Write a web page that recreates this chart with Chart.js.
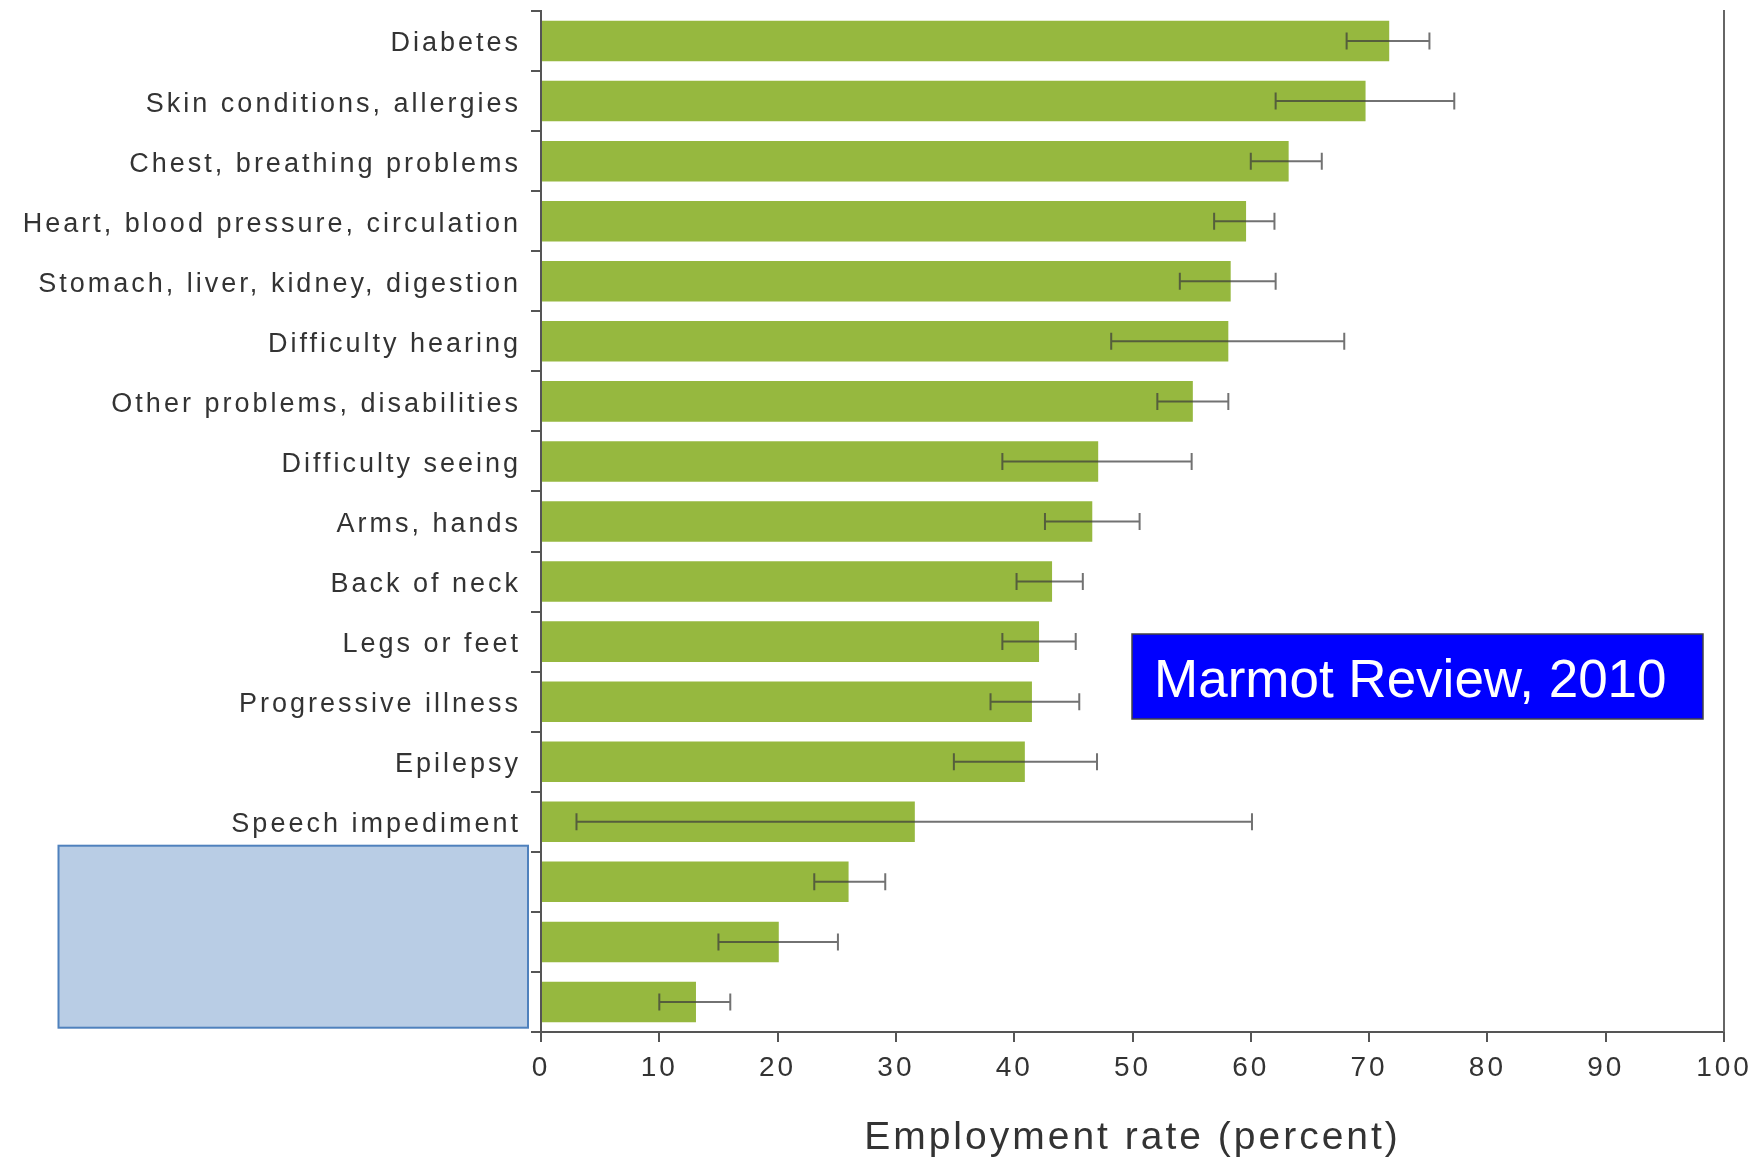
<!DOCTYPE html>
<html>
<head>
<meta charset="utf-8">
<script src="https://cdn.jsdelivr.net/npm/chart.js@4.4.1/dist/chart.umd.min.js"></script>
<style>
  html, body { margin: 0; padding: 0; background: #ffffff; }
  #wrap { width: 1763px; height: 1157px; position: relative; }
</style>
</head>
<body>
<div id="wrap"><canvas id="c" width="1763" height="1157"></canvas></div>
<script>
// Categories (the last three labels are hidden beneath an overlay box in the source image)
const categories = [
  "Diabetes",
  "Skin conditions, allergies",
  "Chest, breathing problems",
  "Heart, blood pressure, circulation",
  "Stomach, liver, kidney, digestion",
  "Difficulty hearing",
  "Other problems, disabilities",
  "Difficulty seeing",
  "Arms, hands",
  "Back of neck",
  "Legs or feet",
  "Progressive illness",
  "Epilepsy",
  "Speech impediment",
  "",
  "",
  ""
];
// Employment rate (percent)
const employmentRate = [71.7, 69.7, 63.2, 59.6, 58.3, 58.1, 55.1, 47.1, 46.6, 43.2, 42.1, 41.5, 40.9, 31.6, 26.0, 20.1, 13.1];
// Confidence interval bounds
const errorLow  = [68.1, 62.1, 60.0, 56.9, 54.0, 48.2, 52.1, 39.0, 42.6, 40.2, 39.0, 38.0, 34.9, 3.0, 23.1, 15.0, 10.0];
const errorHigh = [75.1, 77.2, 66.0, 62.0, 62.1, 67.9, 58.1, 55.0, 50.6, 45.8, 45.2, 45.5, 47.0, 60.1, 29.1, 25.1, 16.0];
// Axis ticks
const xTicks = [0, 10, 20, 30, 40, 50, 60, 70, 80, 90, 100];
const xTitle = "Employment rate (percent)";
const sourceNote = "Marmot Review, 2010";

const FONT = '"Liberation Sans", Arial, Helvetica, sans-serif';
const AXIS_COLOR = '#555555';
const TEXT_COLOR = '#333333';

const trackingPlugin = {
  id: 'tracking',
  beforeDraw(chart) {
    chart.ctx.letterSpacing = '3px';
  }
};

const errorBarPlugin = {
  id: 'errorBars',
  afterDatasetsDraw(chart) {
    const ctx = chart.ctx;
    const xs = chart.scales.x;
    const meta = chart.getDatasetMeta(0);
    ctx.save();
    ctx.strokeStyle = 'rgba(60,60,60,0.72)';
    ctx.lineWidth = 2;
    meta.data.forEach((bar, i) => {
      const y = bar.y;
      const x1 = xs.getPixelForValue(errorLow[i]);
      const x2 = xs.getPixelForValue(errorHigh[i]);
      const cap = 8.5;
      ctx.beginPath();
      ctx.moveTo(x1, y); ctx.lineTo(x2, y);
      ctx.moveTo(x1, y - cap); ctx.lineTo(x1, y + cap);
      ctx.moveTo(x2, y - cap); ctx.lineTo(x2, y + cap);
      ctx.stroke();
    });
    ctx.restore();
  }
};

const overlayPlugin = {
  id: 'overlays',
  afterDraw(chart) {
    const ctx = chart.ctx;
    const area = chart.chartArea;
    ctx.save();
    ctx.letterSpacing = '0px';
    // right frame line
    ctx.strokeStyle = '#666666';
    ctx.lineWidth = 2;
    ctx.beginPath();
    ctx.moveTo(area.right, area.top - 1);
    ctx.lineTo(area.right, area.bottom);
    ctx.stroke();
    // light blue cover box
    ctx.fillStyle = '#B9CDE5';
    ctx.fillRect(58.5, 845.7, 469.5, 182);
    ctx.strokeStyle = '#4F81BD';
    ctx.lineWidth = 2;
    ctx.strokeRect(58.5, 845.7, 469.5, 182);
    // blue source box
    ctx.fillStyle = '#0000FF';
    ctx.fillRect(1132, 634, 571, 85);
    ctx.strokeStyle = '#444444';
    ctx.lineWidth = 1.5;
    ctx.strokeRect(1132, 634, 571, 85);
    ctx.fillStyle = '#FFFFFF';
    ctx.font = '53px ' + FONT;
    ctx.textAlign = 'left';
    ctx.textBaseline = 'alphabetic';
    ctx.fillText(sourceNote, 1154, 697);
    ctx.restore();
  }
};

new Chart(document.getElementById('c'), {
  type: 'bar',
  data: {
    labels: categories,
    datasets: [{
      data: employmentRate,
      backgroundColor: '#96B83F',
      borderWidth: 0,
      barPercentage: 0.675,
      categoryPercentage: 1.0
    }]
  },
  options: {
    indexAxis: 'y',
    responsive: false,
    animation: false,
    devicePixelRatio: 1,
    layout: { padding: { top: 11, right: 39, left: 0, bottom: 0 } },
    plugins: {
      legend: { display: false },
      tooltip: { enabled: false },
      title: { display: false }
    },
    scales: {
      x: {
        type: 'linear',
        position: 'bottom',
        min: 0,
        max: 100,
        afterBuildTicks(scale) {
          scale.ticks = xTicks.map(v => ({ value: v }));
        },
        afterFit(scale) {
          scale.height = 125;
          scale.paddingLeft = 0;
          scale.paddingRight = 0;
        },
        ticks: {
          color: TEXT_COLOR,
          font: { family: FONT, size: 28, lineHeight: 1.2 },
          padding: 9,
          maxRotation: 0,
          autoSkip: false
        },
        grid: {
          display: true,
          drawOnChartArea: false,
          drawTicks: true,
          tickLength: 10,
          color: AXIS_COLOR,
          lineWidth: 2
        },
        border: { display: true, color: AXIS_COLOR, width: 2 },
        title: {
          display: true,
          text: xTitle,
          color: TEXT_COLOR,
          font: { family: FONT, size: 39, lineHeight: 0.9 },
          padding: { top: 0, bottom: 1 }
        }
      },
      y: {
        type: 'category',
        position: 'left',
        afterFit(scale) {
          scale.width = 541;
          scale.paddingTop = 0;
          scale.paddingBottom = 0;
        },
        ticks: {
          color: TEXT_COLOR,
          font: { family: FONT, size: 27 },
          padding: 10,
          labelOffset: 3,
          autoSkip: false
        },
        grid: {
          display: true,
          offset: true,
          drawOnChartArea: false,
          drawTicks: true,
          tickLength: 10,
          color: AXIS_COLOR,
          lineWidth: 2
        },
        border: { display: true, color: AXIS_COLOR, width: 2 }
      }
    }
  },
  plugins: [trackingPlugin, errorBarPlugin, overlayPlugin]
});
</script>
</body>
</html>
